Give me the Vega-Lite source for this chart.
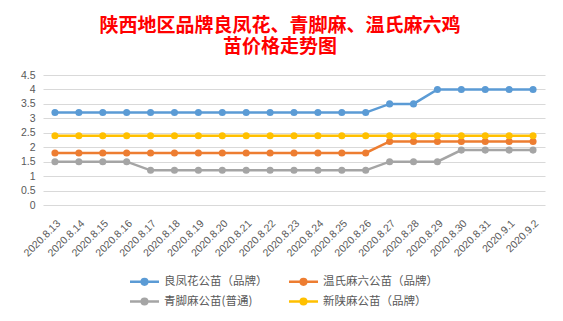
{
  "$schema": "https://vega.github.io/schema/vega-lite/v6.json",
  "width": 502,
  "height": 130,
  "autosize": {"type": "none"},
  "padding": {"left": 43, "top": 75, "right": 18, "bottom": 116},
  "background": "white",
  "title": {
    "text": ["陕西地区品牌良凤花、青脚麻、温氏麻六鸡", "苗价格走势图"],
    "color": "#FF0000",
    "font": "Noto Sans CJK SC",
    "fontSize": 19,
    "fontWeight": "bold",
    "lineHeight": 21.5,
    "anchor": "middle",
    "dx": -14,
    "offset": 13
  },
  "config": {
    "view": {"stroke": null},
    "axis": {"labelFont": "Liberation Sans", "labelColor": "#595959", "gridColor": "#D9D9D9", "domain": false, "ticks": false}
  },
  "data": {
    "values": [
      {"date": "2020.8.13", "s": "良凤花公苗（品牌）", "v": 3.2},
      {"date": "2020.8.14", "s": "良凤花公苗（品牌）", "v": 3.2},
      {"date": "2020.8.15", "s": "良凤花公苗（品牌）", "v": 3.2},
      {"date": "2020.8.16", "s": "良凤花公苗（品牌）", "v": 3.2},
      {"date": "2020.8.17", "s": "良凤花公苗（品牌）", "v": 3.2},
      {"date": "2020.8.18", "s": "良凤花公苗（品牌）", "v": 3.2},
      {"date": "2020.8.19", "s": "良凤花公苗（品牌）", "v": 3.2},
      {"date": "2020.8.20", "s": "良凤花公苗（品牌）", "v": 3.2},
      {"date": "2020.8.21", "s": "良凤花公苗（品牌）", "v": 3.2},
      {"date": "2020.8.22", "s": "良凤花公苗（品牌）", "v": 3.2},
      {"date": "2020.8.23", "s": "良凤花公苗（品牌）", "v": 3.2},
      {"date": "2020.8.24", "s": "良凤花公苗（品牌）", "v": 3.2},
      {"date": "2020.8.25", "s": "良凤花公苗（品牌）", "v": 3.2},
      {"date": "2020.8.26", "s": "良凤花公苗（品牌）", "v": 3.2},
      {"date": "2020.8.27", "s": "良凤花公苗（品牌）", "v": 3.5},
      {"date": "2020.8.28", "s": "良凤花公苗（品牌）", "v": 3.5},
      {"date": "2020.8.29", "s": "良凤花公苗（品牌）", "v": 4.0},
      {"date": "2020.8.30", "s": "良凤花公苗（品牌）", "v": 4.0},
      {"date": "2020.8.31", "s": "良凤花公苗（品牌）", "v": 4.0},
      {"date": "2020.9.1", "s": "良凤花公苗（品牌）", "v": 4.0},
      {"date": "2020.9.2", "s": "良凤花公苗（品牌）", "v": 4.0},
      {"date": "2020.8.13", "s": "温氏麻六公苗（品牌）", "v": 1.8},
      {"date": "2020.8.14", "s": "温氏麻六公苗（品牌）", "v": 1.8},
      {"date": "2020.8.15", "s": "温氏麻六公苗（品牌）", "v": 1.8},
      {"date": "2020.8.16", "s": "温氏麻六公苗（品牌）", "v": 1.8},
      {"date": "2020.8.17", "s": "温氏麻六公苗（品牌）", "v": 1.8},
      {"date": "2020.8.18", "s": "温氏麻六公苗（品牌）", "v": 1.8},
      {"date": "2020.8.19", "s": "温氏麻六公苗（品牌）", "v": 1.8},
      {"date": "2020.8.20", "s": "温氏麻六公苗（品牌）", "v": 1.8},
      {"date": "2020.8.21", "s": "温氏麻六公苗（品牌）", "v": 1.8},
      {"date": "2020.8.22", "s": "温氏麻六公苗（品牌）", "v": 1.8},
      {"date": "2020.8.23", "s": "温氏麻六公苗（品牌）", "v": 1.8},
      {"date": "2020.8.24", "s": "温氏麻六公苗（品牌）", "v": 1.8},
      {"date": "2020.8.25", "s": "温氏麻六公苗（品牌）", "v": 1.8},
      {"date": "2020.8.26", "s": "温氏麻六公苗（品牌）", "v": 1.8},
      {"date": "2020.8.27", "s": "温氏麻六公苗（品牌）", "v": 2.2},
      {"date": "2020.8.28", "s": "温氏麻六公苗（品牌）", "v": 2.2},
      {"date": "2020.8.29", "s": "温氏麻六公苗（品牌）", "v": 2.2},
      {"date": "2020.8.30", "s": "温氏麻六公苗（品牌）", "v": 2.2},
      {"date": "2020.8.31", "s": "温氏麻六公苗（品牌）", "v": 2.2},
      {"date": "2020.9.1", "s": "温氏麻六公苗（品牌）", "v": 2.2},
      {"date": "2020.9.2", "s": "温氏麻六公苗（品牌）", "v": 2.2},
      {"date": "2020.8.13", "s": "青脚麻公苗(普通)", "v": 1.5},
      {"date": "2020.8.14", "s": "青脚麻公苗(普通)", "v": 1.5},
      {"date": "2020.8.15", "s": "青脚麻公苗(普通)", "v": 1.5},
      {"date": "2020.8.16", "s": "青脚麻公苗(普通)", "v": 1.5},
      {"date": "2020.8.17", "s": "青脚麻公苗(普通)", "v": 1.2},
      {"date": "2020.8.18", "s": "青脚麻公苗(普通)", "v": 1.2},
      {"date": "2020.8.19", "s": "青脚麻公苗(普通)", "v": 1.2},
      {"date": "2020.8.20", "s": "青脚麻公苗(普通)", "v": 1.2},
      {"date": "2020.8.21", "s": "青脚麻公苗(普通)", "v": 1.2},
      {"date": "2020.8.22", "s": "青脚麻公苗(普通)", "v": 1.2},
      {"date": "2020.8.23", "s": "青脚麻公苗(普通)", "v": 1.2},
      {"date": "2020.8.24", "s": "青脚麻公苗(普通)", "v": 1.2},
      {"date": "2020.8.25", "s": "青脚麻公苗(普通)", "v": 1.2},
      {"date": "2020.8.26", "s": "青脚麻公苗(普通)", "v": 1.2},
      {"date": "2020.8.27", "s": "青脚麻公苗(普通)", "v": 1.5},
      {"date": "2020.8.28", "s": "青脚麻公苗(普通)", "v": 1.5},
      {"date": "2020.8.29", "s": "青脚麻公苗(普通)", "v": 1.5},
      {"date": "2020.8.30", "s": "青脚麻公苗(普通)", "v": 1.9},
      {"date": "2020.8.31", "s": "青脚麻公苗(普通)", "v": 1.9},
      {"date": "2020.9.1", "s": "青脚麻公苗(普通)", "v": 1.9},
      {"date": "2020.9.2", "s": "青脚麻公苗(普通)", "v": 1.9},
      {"date": "2020.8.13", "s": "新陕麻公苗（品牌）", "v": 2.4},
      {"date": "2020.8.14", "s": "新陕麻公苗（品牌）", "v": 2.4},
      {"date": "2020.8.15", "s": "新陕麻公苗（品牌）", "v": 2.4},
      {"date": "2020.8.16", "s": "新陕麻公苗（品牌）", "v": 2.4},
      {"date": "2020.8.17", "s": "新陕麻公苗（品牌）", "v": 2.4},
      {"date": "2020.8.18", "s": "新陕麻公苗（品牌）", "v": 2.4},
      {"date": "2020.8.19", "s": "新陕麻公苗（品牌）", "v": 2.4},
      {"date": "2020.8.20", "s": "新陕麻公苗（品牌）", "v": 2.4},
      {"date": "2020.8.21", "s": "新陕麻公苗（品牌）", "v": 2.4},
      {"date": "2020.8.22", "s": "新陕麻公苗（品牌）", "v": 2.4},
      {"date": "2020.8.23", "s": "新陕麻公苗（品牌）", "v": 2.4},
      {"date": "2020.8.24", "s": "新陕麻公苗（品牌）", "v": 2.4},
      {"date": "2020.8.25", "s": "新陕麻公苗（品牌）", "v": 2.4},
      {"date": "2020.8.26", "s": "新陕麻公苗（品牌）", "v": 2.4},
      {"date": "2020.8.27", "s": "新陕麻公苗（品牌）", "v": 2.4},
      {"date": "2020.8.28", "s": "新陕麻公苗（品牌）", "v": 2.4},
      {"date": "2020.8.29", "s": "新陕麻公苗（品牌）", "v": 2.4},
      {"date": "2020.8.30", "s": "新陕麻公苗（品牌）", "v": 2.4},
      {"date": "2020.8.31", "s": "新陕麻公苗（品牌）", "v": 2.4},
      {"date": "2020.9.1", "s": "新陕麻公苗（品牌）", "v": 2.4},
      {"date": "2020.9.2", "s": "新陕麻公苗（品牌）", "v": 2.4}
    ]
  },
  "mark": {"type": "line", "strokeWidth": 2.5, "point": {"filled": true, "size": 50, "opacity": 1}},
  "encoding": {
    "x": {
      "field": "date", "type": "ordinal", "sort": null,
      "scale": {"type": "point", "padding": 0.5},
      "axis": {"title": null, "labelAngle": -45, "labelFontSize": 10.5, "labelPadding": 13, "grid": false, "labelOverlap": false}
    },
    "y": {
      "field": "v", "type": "quantitative",
      "scale": {"domain": [0, 4.5], "nice": false},
      "axis": {"title": null, "values": [0, 0.5, 1, 1.5, 2, 2.5, 3, 3.5, 4, 4.5], "format": "~g", "labelFontSize": 10.5, "labelPadding": 8, "labelFlush": false}
    },
    "color": {
      "field": "s", "type": "nominal",
      "scale": {
        "domain": ["良凤花公苗（品牌）", "温氏麻六公苗（品牌）", "青脚麻公苗(普通)", "新陕麻公苗（品牌）"],
        "range": ["#5B9BD5", "#ED7D31", "#A5A5A5", "#FFC000"]
      },
      "legend": {
        "title": null,
        "orient": "none",
        "legendX": 90,
        "legendY": 195,
        "direction": "horizontal",
        "columns": 2,
        "columnPadding": 16,
        "rowPadding": -2,
        "symbolType": "M-1.45,0L1.45,0M-0.28,0A0.28,0.28,0,1,1,0.28,0A0.28,0.28,0,1,1,-0.28,0Z",
        "symbolSize": 400,
        "symbolStrokeWidth": 2.5,
        "symbolFillColor": null,
        "labelFont": "Noto Sans CJK SC",
        "labelFontSize": 11.5,
        "labelColor": "#595959",
        "labelOffset": 8,
        "labelLimit": 200
      }
    }
  }
}
